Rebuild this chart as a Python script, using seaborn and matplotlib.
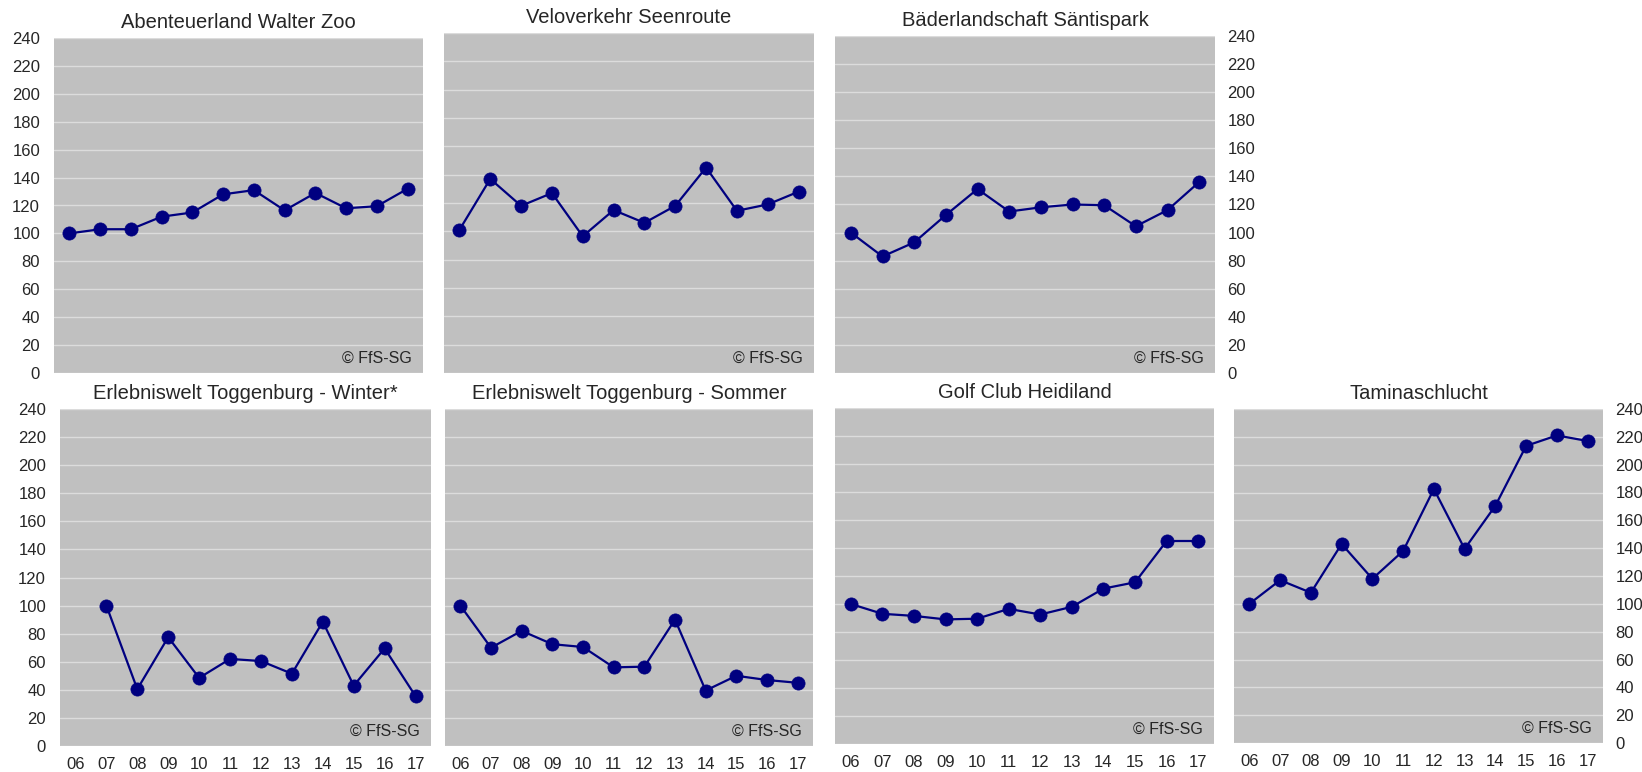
import numpy as np
import pandas as pd
import matplotlib
matplotlib.use("Agg")
import matplotlib.pyplot as plt
import seaborn as sns

# data (index, 2006 = 100)
years = ["06", "07", "08", "09", "10", "11", "12", "13", "14", "15", "16", "17"]

walter_zoo = [100, 103, 103, 112, 115, 128, 131, 116.5, 129, 118, 119.5, 132]
velo_seenroute = [101, 137, 118, 127, 96.5, 115, 106, 118, 145, 114.5, 119, 128]
saentispark = [100, 83, 93, 112.5, 131, 115, 118, 120, 119.5, 104.5, 116, 136]
toggenburg_winter = [np.nan, 100, 40.5, 77.5, 48.5, 62, 60.5, 51.5, 88.5, 43, 69.5, 35.5]
toggenburg_sommer = [100, 70, 82, 72.5, 70.5, 56, 56.5, 90, 39.5, 50, 47, 45]
golf_heidiland = [100, 93, 91.5, 89, 89.5, 96.5, 92.5, 98, 111, 115.5, 145, 145]
taminaschlucht = [100, 117, 108, 143, 118, 138, 182.5, 139.5, 170.5, 213.5, 221, 217]

titles = ["Abenteuerland Walter Zoo", "Veloverkehr Seenroute", "Bäderlandschaft Säntispark",
          "Erlebniswelt Toggenburg - Winter*", "Erlebniswelt Toggenburg - Sommer",
          "Golf Club Heidiland", "Taminaschlucht"]
series = [walter_zoo, velo_seenroute, saentispark, toggenburg_winter,
          toggenburg_sommer, golf_heidiland, taminaschlucht]
yticks = list(range(0, 241, 20))

sns.set_style("white")
plt.rcParams["font.family"] = ["Liberation Sans", "DejaVu Sans"]

W, H = 1642, 772
fig = plt.figure(figsize=(W / 100, H / 100), dpi=100)

# panel boxes in pixels: left, right, top, bottom
boxes = [(54, 423, 38, 373), (444, 814, 33, 373), (835, 1215, 36, 373),
         (60, 431, 409, 746), (445, 813, 409, 746), (835, 1214, 408, 744),
         (1234, 1603, 409, 743)]
yside = ["left", None, "right", "left", None, None, "right"]
bottom_row = [False, False, False, True, True, True, True]

for i in range(7):
    l, r, t, b = boxes[i]
    ax = fig.add_axes([l / W, 1 - b / H, (r - l) / W, (b - t) / H])
    df = pd.DataFrame({"x": np.arange(len(years)), "y": series[i]})
    sns.lineplot(data=df, x="x", y="y", ax=ax, color="#000080", linewidth=1.6,
                 marker="o", markersize=9.5, markeredgecolor="#000080",
                 markeredgewidth=0.5, zorder=3)
    ax.set_facecolor("#C0C0C0")
    ax.set_xlim(-0.5, 11.5)
    ax.set_ylim(0, 240)
    ax.set_yticks(yticks)
    ax.grid(axis="y", color="#DCDCDC", linewidth=1)
    ax.grid(axis="x", visible=False)
    ax.set_axisbelow(True)
    for s in ax.spines.values():
        s.set_visible(False)
    ax.set_xlabel("")
    ax.set_ylabel("")
    ax.set_title(titles[i], fontsize=14.5, pad=7)
    ax.set_xticks(np.arange(len(years)))
    if bottom_row[i]:
        ax.set_xticklabels(years)
        ax.tick_params(axis="x", length=0, pad=8, labelsize=12)
    else:
        ax.tick_params(axis="x", length=0, labelbottom=False)
    if yside[i] == "left":
        ax.tick_params(axis="y", length=0, pad=10, labelsize=12)
    elif yside[i] == "right":
        ax.yaxis.tick_right()
        ax.tick_params(axis="y", length=0, pad=9, labelsize=12, labelleft=False, labelright=True)
    else:
        ax.tick_params(axis="y", length=0, labelleft=False)
    ax.annotate("© FfS-SG", xy=(1, 0), xycoords="axes fraction", xytext=(-8, 5),
                textcoords="offset points", ha="right", va="bottom", fontsize=11.5)

fig.savefig("out.png", dpi=100, facecolor="white")
